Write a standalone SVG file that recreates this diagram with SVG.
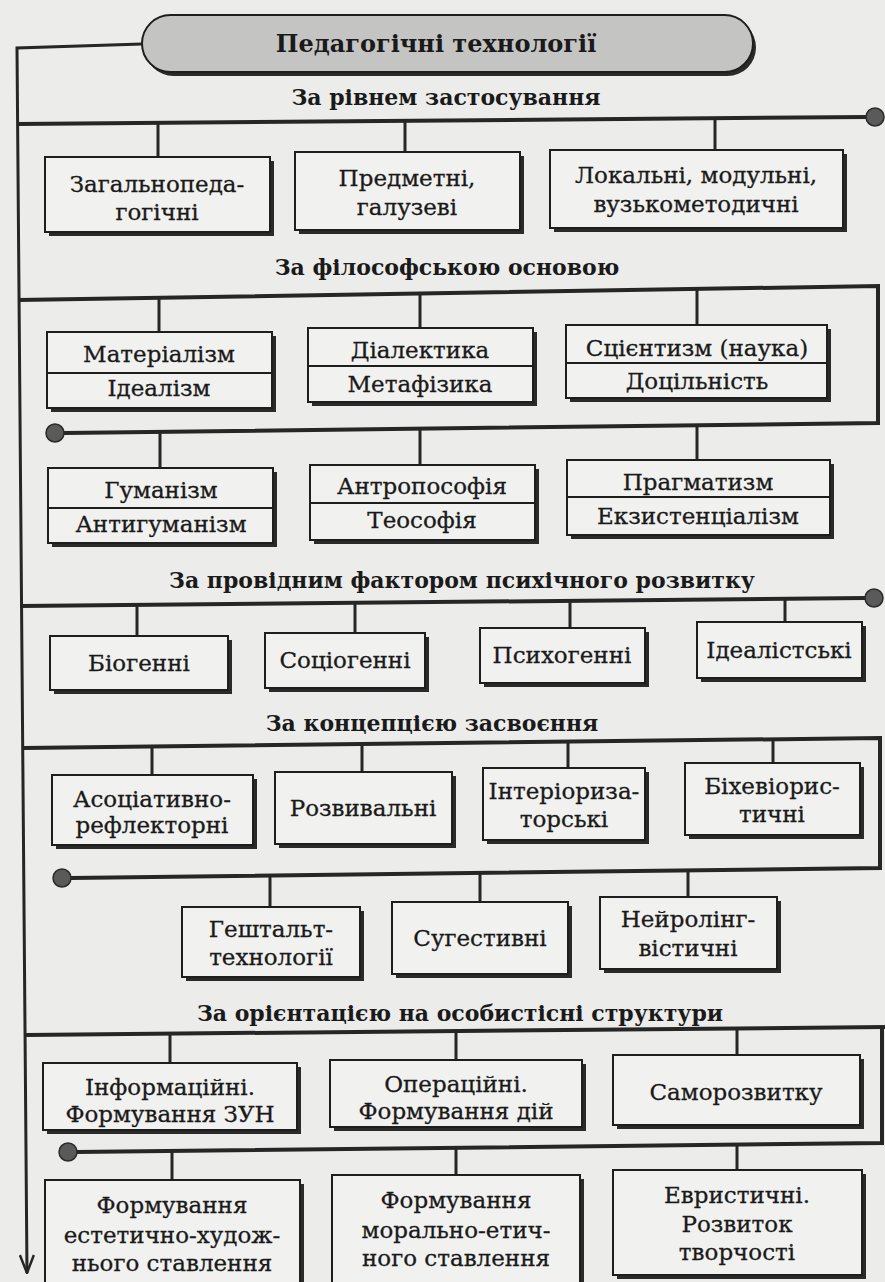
<svg xmlns="http://www.w3.org/2000/svg" width="885" height="1282" viewBox="0 0 885 1282">
  <style>
    .bg { fill: #ececea; }
    .box { fill: #f1f1ef; stroke: #1e1e1e; stroke-width: 2; }
    .shadow { fill: #2a2a2a; }
    .div { stroke: #1e1e1e; stroke-width: 2; }
    .bus { stroke: #262626; stroke-width: 4; fill: none; }
    .drop { stroke: #262626; stroke-width: 3; fill: none; }
    .trunk { stroke: #262626; stroke-width: 3; fill: none; }
    .dot { fill: #5a5a5a; stroke: #2a2a2a; stroke-width: 1.5; }
    .t { font-family: "DejaVu Serif", "Liberation Serif", serif; font-size: 23px; fill: #1a1a1a; stroke: #1a1a1a; stroke-width: 0.3; text-anchor: middle; }
    .h { font-family: "DejaVu Serif", "Liberation Serif", serif; font-size: 22px; font-weight: bold; fill: #1a1a1a; text-anchor: middle; }
    .title { font-size: 24px; }
  </style>
  <defs>
    <!-- open V arrowhead, tip along the +x axis of the path direction -->
    <marker id="arrow" viewBox="0 0 20 16" refX="19" refY="8" markerWidth="20" markerHeight="16" markerUnits="userSpaceOnUse" orient="auto">
      <path d="M1,1 L19,8 L1,15" fill="none" stroke="#262626" stroke-width="2.5"/>
    </marker>
  </defs>

  <rect class="bg" x="0" y="0" width="885" height="1282"/>

  <!-- connectors -->
  <g id="connectors">
    <!-- trunk from the root down the left side -->
    <path class="trunk" d="M142,44 L17,48 L27,1273" marker-end="url(#arrow)"/>

    <!-- level of application -->
    <path class="bus" d="M17,124 L868,117"/>
    <circle class="dot" cx="875" cy="117" r="9"/>
    <path class="drop" d="M158,123 V157 M405,121 V152 M715,119 V150"/>

    <!-- philosophical basis -->
    <path class="bus" d="M18,300 L878,286 V423 L64,433"/>
    <circle class="dot" cx="55" cy="433" r="9"/>
    <path class="drop" d="M159,298 V332 M420,294 V328 M697,289 V325"/>
    <path class="drop" d="M160,432 V468 M420,429 V465 M697,425 V460"/>

    <!-- leading factor of mental development -->
    <path class="bus" d="M20,606 L866,598"/>
    <circle class="dot" cx="874" cy="598" r="9"/>
    <path class="drop" d="M137,605 V636 M355,603 V633 M570,601 V628 M785,599 V622"/>

    <!-- concept of learning -->
    <path class="bus" d="M23,748 L880,738 V868 L70,878"/>
    <circle class="dot" cx="62" cy="878" r="9"/>
    <path class="drop" d="M152,747 V775 M362,744 V772 M568,742 V768 M773,740 V763"/>
    <path class="drop" d="M270,877 V907 M480,874 V902 M688,872 V897"/>

    <!-- orientation on personal structures -->
    <path class="bus" d="M26,1035 L885,1027"/>
    <path class="bus" d="M882,1028 V1143 L76,1152"/>
    <circle class="dot" cx="68" cy="1152" r="9"/>
    <path class="drop" d="M170,1034 V1063 M456,1031 V1060 M737,1029 V1055"/>
    <path class="drop" d="M172,1151 V1180 M456,1148 V1175 M737,1145 V1170"/>
  </g>

  <!-- root -->
  <g id="root">
    <rect class="shadow" x="145" y="19" width="611" height="57" rx="28.5"/>
    <rect x="142" y="15" width="611" height="57" rx="28.5" fill="#c4c4c2" stroke="#1e1e1e" stroke-width="2"/>
    <text class="h title" x="436" y="52">Педагогічні технології</text>
  </g>

  <!-- headings -->
  <text id="h1" class="h" x="446" y="105">За рівнем застосування</text>
  <text id="h2" class="h" x="447" y="275">За філософською основою</text>
  <text id="h3" class="h" x="462" y="588">За провідним фактором психічного розвитку</text>
  <text id="h4" class="h" x="432" y="731">За концепцією засвоєння</text>
  <text id="h5" class="h" x="460" y="1021">За орієнтацією на особистісні структури</text>

  <!-- За рівнем застосування -->
  <g id="n-general">
    <rect class="shadow" x="49" y="161" width="225" height="75"/>
    <rect class="box" x="45" y="157" width="225" height="75"/>
    <text class="t" x="157" y="192">Загальнопеда-</text>
    <text class="t" x="157" y="220">гогічні</text>
  </g>
  <g id="n-subject">
    <rect class="shadow" x="299" y="156" width="225" height="78"/>
    <rect class="box" x="295" y="152" width="225" height="78"/>
    <text class="t" x="407" y="186">Предметні,</text>
    <text class="t" x="407" y="215">галузеві</text>
  </g>
  <g id="n-local">
    <rect class="shadow" x="554" y="154" width="293" height="78"/>
    <rect class="box" x="550" y="150" width="293" height="78"/>
    <text class="t" x="696" y="183">Локальні, модульні,</text>
    <text class="t" x="696" y="212">вузькометодичні</text>
  </g>

  <!-- За філософською основою -->
  <g id="n-materialism">
    <rect class="shadow" x="51" y="336" width="225" height="76"/>
    <rect class="box" x="47" y="332" width="225" height="76"/>
    <line class="div" x1="47" y1="373" x2="272" y2="373"/>
    <text class="t" x="159" y="362">Матеріалізм</text>
    <text class="t" x="159" y="396">Ідеалізм</text>
  </g>
  <g id="n-dialectics">
    <rect class="shadow" x="312" y="332" width="225" height="74"/>
    <rect class="box" x="308" y="328" width="225" height="74"/>
    <line class="div" x1="308" y1="366" x2="533" y2="366"/>
    <text class="t" x="420" y="358">Діалектика</text>
    <text class="t" x="420" y="392">Метафізика</text>
  </g>
  <g id="n-scientism">
    <rect class="shadow" x="570" y="329" width="261" height="73"/>
    <rect class="box" x="566" y="325" width="261" height="73"/>
    <line class="div" x1="566" y1="363" x2="827" y2="363"/>
    <text class="t" x="697" y="356">Сцієнтизм (наука)</text>
    <text class="t" x="697" y="389">Доцільність</text>
  </g>
  <g id="n-humanism">
    <rect class="shadow" x="52" y="472" width="225" height="75"/>
    <rect class="box" x="48" y="468" width="225" height="75"/>
    <line class="div" x1="48" y1="508" x2="273" y2="508"/>
    <text class="t" x="161" y="498">Гуманізм</text>
    <text class="t" x="161" y="532">Антигуманізм</text>
  </g>
  <g id="n-anthroposophy">
    <rect class="shadow" x="314" y="469" width="225" height="75"/>
    <rect class="box" x="310" y="465" width="225" height="75"/>
    <line class="div" x1="310" y1="503" x2="535" y2="503"/>
    <text class="t" x="422" y="494">Антропософія</text>
    <text class="t" x="422" y="528">Теософія</text>
  </g>
  <g id="n-pragmatism">
    <rect class="shadow" x="571" y="464" width="263" height="75"/>
    <rect class="box" x="567" y="460" width="263" height="75"/>
    <line class="div" x1="567" y1="497" x2="830" y2="497"/>
    <text class="t" x="698" y="490">Прагматизм</text>
    <text class="t" x="698" y="524">Екзистенціалізм</text>
  </g>

  <!-- За провідним фактором психічного розвитку -->
  <g id="n-biogenic">
    <rect class="shadow" x="54" y="640" width="178" height="54"/>
    <rect class="box" x="50" y="636" width="178" height="54"/>
    <text class="t" x="139" y="671">Біогенні</text>
  </g>
  <g id="n-sociogenic">
    <rect class="shadow" x="269" y="637" width="160" height="55"/>
    <rect class="box" x="265" y="633" width="160" height="55"/>
    <text class="t" x="345" y="668">Соціогенні</text>
  </g>
  <g id="n-psychogenic">
    <rect class="shadow" x="484" y="632" width="165" height="55"/>
    <rect class="box" x="480" y="628" width="165" height="55"/>
    <text class="t" x="562" y="663">Психогенні</text>
  </g>
  <g id="n-idealist">
    <rect class="shadow" x="701" y="626" width="165" height="56"/>
    <rect class="box" x="697" y="622" width="165" height="56"/>
    <text class="t" x="779" y="658">Ідеалістські</text>
  </g>

  <!-- За концепцією засвоєння -->
  <g id="n-associative">
    <rect class="shadow" x="56" y="779" width="201" height="70"/>
    <rect class="box" x="52" y="775" width="201" height="70"/>
    <text class="t" x="152" y="807">Асоціативно-</text>
    <text class="t" x="152" y="833">рефлекторні</text>
  </g>
  <g id="n-developing">
    <rect class="shadow" x="279" y="776" width="177" height="72"/>
    <rect class="box" x="275" y="772" width="177" height="72"/>
    <text class="t" x="363" y="816">Розвивальні</text>
  </g>
  <g id="n-interior">
    <rect class="shadow" x="487" y="772" width="162" height="72"/>
    <rect class="box" x="483" y="768" width="162" height="72"/>
    <text class="t" x="564" y="799">Інтеріориза-</text>
    <text class="t" x="564" y="827">торські</text>
  </g>
  <g id="n-behaviorist">
    <rect class="shadow" x="689" y="767" width="175" height="72"/>
    <rect class="box" x="685" y="763" width="175" height="72"/>
    <text class="t" x="772" y="794">Біхевіорис-</text>
    <text class="t" x="772" y="822">тичні</text>
  </g>
  <g id="n-gestalt">
    <rect class="shadow" x="186" y="911" width="178" height="70"/>
    <rect class="box" x="182" y="907" width="178" height="70"/>
    <text class="t" x="271" y="937">Гештальт-</text>
    <text class="t" x="271" y="965">технології</text>
  </g>
  <g id="n-suggestive">
    <rect class="shadow" x="396" y="906" width="176" height="72"/>
    <rect class="box" x="392" y="902" width="176" height="72"/>
    <text class="t" x="480" y="946">Сугестивні</text>
  </g>
  <g id="n-neuroling">
    <rect class="shadow" x="604" y="901" width="177" height="72"/>
    <rect class="box" x="600" y="897" width="177" height="72"/>
    <text class="t" x="688" y="927">Нейролінг-</text>
    <text class="t" x="688" y="956">вістичні</text>
  </g>

  <!-- За орієнтацією на особистісні структури -->
  <g id="n-informational">
    <rect class="shadow" x="47" y="1067" width="254" height="67"/>
    <rect class="box" x="43" y="1063" width="254" height="67"/>
    <text class="t" x="170" y="1095">Інформаційні.</text>
    <text class="t" x="170" y="1122">Формування ЗУН</text>
  </g>
  <g id="n-operational">
    <rect class="shadow" x="334" y="1064" width="252" height="67"/>
    <rect class="box" x="330" y="1060" width="252" height="67"/>
    <text class="t" x="456" y="1092">Операційні.</text>
    <text class="t" x="456" y="1119">Формування дій</text>
  </g>
  <g id="n-selfdev">
    <rect class="shadow" x="617" y="1059" width="247" height="70"/>
    <rect class="box" x="613" y="1055" width="247" height="70"/>
    <text class="t" x="736" y="1100">Саморозвитку</text>
  </g>
  <g id="n-aesthetic">
    <rect class="shadow" x="49" y="1184" width="255" height="110"/>
    <rect class="box" x="45" y="1180" width="255" height="110"/>
    <text class="t" x="172" y="1213">Формування</text>
    <text class="t" x="172" y="1243">естетично-худож-</text>
    <text class="t" x="172" y="1271">нього ставлення</text>
  </g>
  <g id="n-moral">
    <rect class="shadow" x="336" y="1179" width="248" height="110"/>
    <rect class="box" x="332" y="1175" width="248" height="110"/>
    <text class="t" x="456" y="1208">Формування</text>
    <text class="t" x="456" y="1238">морально-етич-</text>
    <text class="t" x="456" y="1266">ного ставлення</text>
  </g>
  <g id="n-heuristic">
    <rect class="shadow" x="617" y="1174" width="249" height="105"/>
    <rect class="box" x="613" y="1170" width="249" height="105"/>
    <text class="t" x="737" y="1203">Евристичні.</text>
    <text class="t" x="737" y="1232">Розвиток</text>
    <text class="t" x="737" y="1260">творчості</text>
  </g>
</svg>
